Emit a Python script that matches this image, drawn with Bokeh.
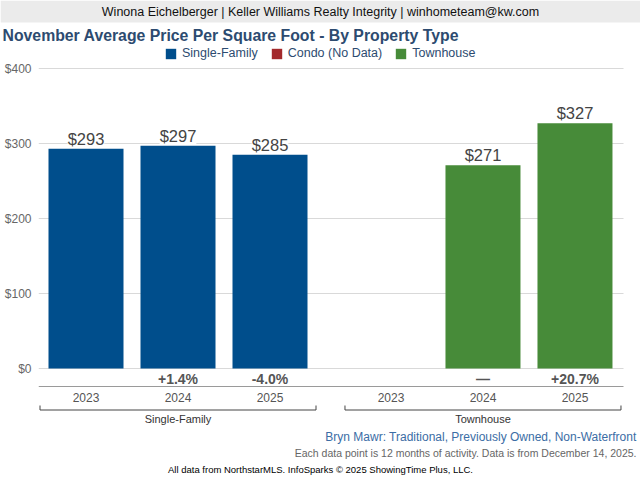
from bokeh.plotting import figure
from bokeh.models import (Range1d, ColumnDataSource, LabelSet, Label, Legend, LegendItem,
                          FixedTicker, NumeralTickFormatter)
from bokeh.layouts import column
from bokeh.embed import file_html
from bokeh.resources import INLINE
from bokeh.core.properties import value

# ---------------- data ----------------
HEADER = "Winona Eichelberger | Keller Williams Realty Integrity | winhometeam@kw.com"
TITLE = "November Average Price Per Square Foot - By Property Type"
SUBTITLE = "Bryn Mawr: Traditional, Previously Owned, Non-Waterfront"
NOTE = "Each data point is 12 months of activity. Data is from December 14, 2025."
FOOTER = "All data from NorthstarMLS. InfoSparks \u00a9 2025 ShowingTime Plus, LLC."

years = ["2023", "2024", "2025"]
groups = ["Single-Family", "Townhouse"]
series_names = ["Single-Family", "Condo (No Data)", "Townhouse"]
single_family = [293, 297, 285]
condo = [None, None, None]
townhouse = [None, 271, 327]
sf_change = ["", "+1.4%", "-4.0%"]
th_change = ["", "\u2014", "+20.7%"]
y_ticks = [0, 100, 200, 300, 400]

# ---------------- style / layout ----------------
FONT = "Liberation Sans"
BLUE = "#004e8c"
RED = "#a3292c"
GREEN = "#478b39"
W = 640
TOP_H = 45
MAIN_H = 480 - TOP_H
FRAME_LEFT = 38
BASE_PAGE = 368.0
PX_PER_UNIT = 0.75
SLOT_PX = 92.0
SLOT0_PAGE = 85.5
GROUP_GAP = 0.315
BAR_W = 75.0 / SLOT_PX


def vy(page_y):
    return (BASE_PAGE - page_y) / PX_PER_UNIT


def vx(page_x):
    return (page_x - SLOT0_PAGE) / SLOT_PX


# ---------------- header + title ----------------
h = figure(width=W, height=TOP_H, x_range=Range1d(0, W), y_range=Range1d(TOP_H, 0),
           output_backend="svg", toolbar_location=None, min_border=0,
           x_axis_location=None, y_axis_location=None, outline_line_color=None)
h.grid.visible = False
h.quad(left=[0], right=[W], top=[0], bottom=[22], fill_color="#ebebeb", line_color=None)
h.add_layout(Label(x=W / 2, y=11, text=HEADER, text_align="center",
                   text_baseline="middle", text_font=FONT, text_font_size="12.5px",
                   text_color="#111111"))
h.add_layout(Label(x=2, y=35, text=TITLE, text_align="left", text_baseline="middle",
                   text_font=FONT, text_font_size="15.8px", text_font_style="bold",
                   text_color="#2d4b70"))

# ---------------- main ----------------
p = figure(width=W, height=MAIN_H,
           x_range=Range1d(vx(FRAME_LEFT), vx(640)),
           y_range=Range1d(vy(480), vy(TOP_H)),
           output_backend="svg", toolbar_location=None,
           min_border_left=FRAME_LEFT, min_border_right=0, min_border_top=0,
           min_border_bottom=0, x_axis_location=None, outline_line_color=None)
p.xgrid.visible = False
p.ygrid.visible = False

for fig in (h, p):
    if "frame_align" in fig.properties():
        fig.frame_align = False

ya = p.yaxis[0]
ya.ticker = FixedTicker(ticks=y_ticks)
ya.formatter = NumeralTickFormatter(format="$0")
ya.axis_line_color = None
ya.major_tick_line_color = None
ya.minor_tick_line_color = None
ya.major_tick_out = 0
ya.major_tick_in = 0
ya.minor_tick_out = 0
ya.minor_tick_in = 0
ya.major_label_standoff = 7
ya.major_label_text_font = FONT
ya.major_label_text_font_size = "12px"
ya.major_label_text_color = "#666666"

# grid lines
gx0, gx1 = vx(38), vx(623)
p.segment(x0=[gx0] * len(y_ticks), x1=[gx1] * len(y_ticks), y0=y_ticks, y1=y_ticks,
          line_color="#d9d9d9", line_width=1)

# slot positions
sf_x = [float(i) for i in range(len(years))]
th_x = [len(years) + GROUP_GAP + i for i in range(len(years))]

sf_src = ColumnDataSource(dict(x=sf_x, top=single_family,
                               label=["$%d" % v for v in single_family]))
th_pairs = [(x, v) for x, v in zip(th_x, townhouse) if v is not None]
th_src = ColumnDataSource(dict(x=[a for a, _ in th_pairs], top=[b for _, b in th_pairs],
                               label=["$%d" % b for _, b in th_pairs]))
condo_src = ColumnDataSource(dict(x=sf_x, top=[float("nan") if v is None else v for v in condo]))

r_sf = p.vbar(x="x", top="top", width=BAR_W, source=sf_src, fill_color=BLUE, line_color=None)
r_condo = p.vbar(x="x", top="top", width=BAR_W, source=condo_src, fill_color=RED, line_color=None)
r_th = p.vbar(x="x", top="top", width=BAR_W, source=th_src, fill_color=GREEN, line_color=None)

for src in (sf_src, th_src):
    p.add_layout(LabelSet(x="x", y="top", text="label", source=src, y_offset=1,
                          text_align="center", text_baseline="bottom", text_font=value(FONT),
                          text_font_size=value("16.5px"), text_color="#444444",
                          background_fill_color="white"))

# change row
chg_src = ColumnDataSource(dict(x=sf_x + th_x, y=[vy(378)] * 6, text=sf_change + th_change))
p.add_layout(LabelSet(x="x", y="y", text="text", source=chg_src, text_align="center",
                      text_baseline="middle", text_font=value(FONT),
                      text_font_size=value("14px"),
                      text_font_style="bold", text_color="#555555"))

# separator
p.segment(x0=[gx0], x1=[gx1], y0=[vy(386)], y1=[vy(386)], line_color="#9a9a9a", line_width=1)

# year labels
yr_src = ColumnDataSource(dict(x=sf_x + th_x, y=[vy(397)] * 6, text=years + years))
p.add_layout(LabelSet(x="x", y="y", text="text", source=yr_src, text_align="center",
                      text_baseline="middle", text_font=value(FONT),
                      text_font_size=value("12px"), text_color="#555555"))

# group brackets
bx, by = [], []
for xs in (sf_x, th_x):
    a, b = xs[0] - 0.5, xs[-1] + 0.5
    bx.append([a, a, b, b])
    by.append([vy(405), vy(409.5), vy(409.5), vy(405)])
p.multi_line(xs=bx, ys=by, line_color="#444444", line_width=1)
grp_src = ColumnDataSource(dict(x=[sum(sf_x) / 3, sum(th_x) / 3], y=[vy(418)] * 2, text=groups))
p.add_layout(LabelSet(x="x", y="y", text="text", source=grp_src, text_align="center",
                      text_baseline="middle", text_font=value(FONT),
                      text_font_size=value("11px"), text_color="#333333"))

# notes
p.add_layout(Label(x=vx(636), y=vy(436), text=SUBTITLE, text_align="right",
                   text_baseline="middle", text_font=FONT, text_font_size="12px",
                   text_color="#3b6da5"))
p.add_layout(Label(x=vx(636), y=vy(452), text=NOTE, text_align="right",
                   text_baseline="middle", text_font=FONT, text_font_size="10.5px",
                   text_color="#666666"))
p.add_layout(Label(x=vx(320), y=vy(469), text=FOOTER, text_align="center",
                   text_baseline="middle", text_font=FONT, text_font_size="9.5px",
                   text_color="#000000"))

legend = Legend(items=[LegendItem(label=series_names[0], renderers=[r_sf]),
                       LegendItem(label=series_names[1], renderers=[r_condo]),
                       LegendItem(label=series_names[2], renderers=[r_th])],
                orientation="horizontal", location=(126, 420),
                glyph_width=13, glyph_height=13, label_height=13, label_width=10,
                label_standoff=5, spacing=12, padding=0, margin=0,
                border_line_color=None, background_fill_alpha=0,
                label_text_font=FONT, label_text_font_size="12.5px",
                label_text_color="#2d4b70")
p.add_layout(legend)

layout = column(h, p, spacing=0)
open("out.html", "w").write(file_html(layout, INLINE))
